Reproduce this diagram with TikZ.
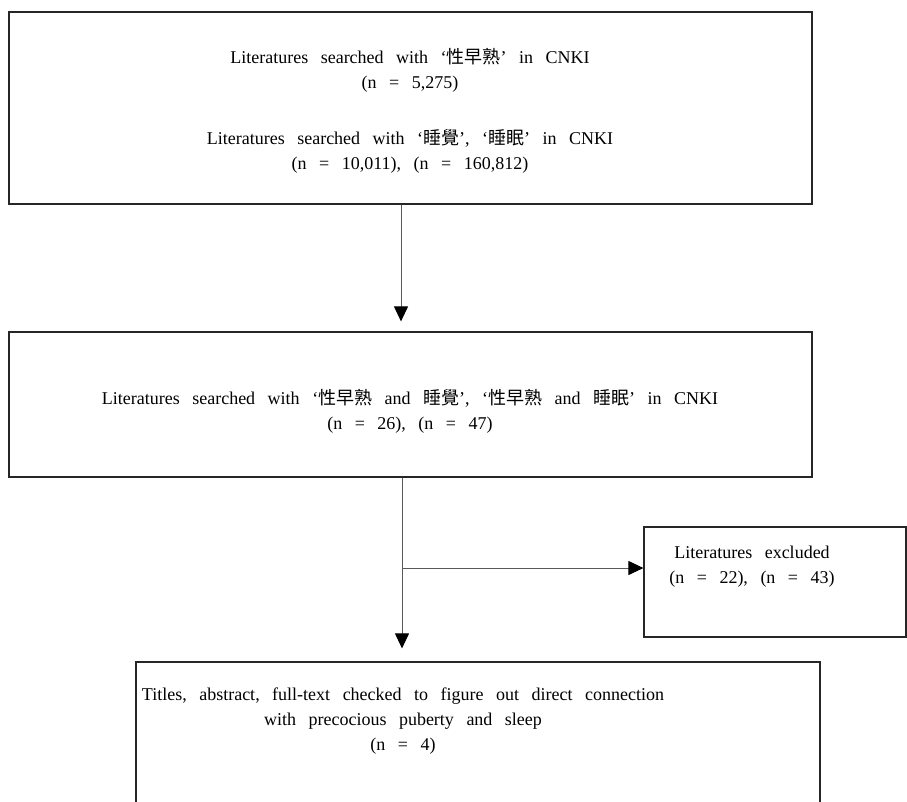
\documentclass[tikz,border=0pt]{standalone}
\usepackage{fontspec}
\setmainfont{Liberation Serif}
\newfontfamily\cjk{Noto Sans CJK TC}
\usetikzlibrary{arrows.meta,calc}
\newcommand\widesp{\spaceskip=12.5pt plus 1pt\relax}
\tikzset{
  boxframe/.style={draw=black!85, line width=1.2pt, inner sep=0pt},
  txt/.style={align=center, inner sep=0pt, text=black,
    font=\fontsize{18}{25}\selectfont, execute at begin node=\widesp},
  arr/.style={draw=black!65, line width=1pt, -{Triangle[length=15pt,width=14pt,color=black]}}
}
\begin{document}
\begin{tikzpicture}[x=1pt,y=-1pt]
\useasboundingbox[fill=white] (0,0) rectangle (907,801);
% boxes
\node[boxframe, minimum width=803pt, minimum height=192pt] (b1) at (410.5,108) {};
\node[boxframe, minimum width=803pt, minimum height=145pt] (b2) at (410.5,404.5) {};
\node[boxframe, minimum width=262pt, minimum height=110pt] (b3) at (775,582) {};
\node[boxframe, minimum width=684pt, minimum height=200pt] (b4) at (478,762) {};
% texts
\node[txt] (t1) at (410,111) {Literatures searched with ‘{\cjk 性早熟}’ in CNKI\\(n = 5,275)\\[31pt]Literatures searched with ‘{\cjk 睡覺}’, ‘{\cjk 睡眠}’ in CNKI\\(n = 10,011), (n = 160,812)};
\node[txt] (t2) at (410,411) {Literatures searched with ‘{\cjk 性早熟} and {\cjk 睡覺}’, ‘{\cjk 性早熟} and {\cjk 睡眠}’ in CNKI\\(n = 26), (n = 47)};
\node[txt] (t3) at (752,567) {Literatures excluded\\(n = 22), (n = 43)};
\node[txt] (t4) at (403,721) {Titles, abstract, full-text checked to figure out direct connection\\with precocious puberty and sleep\\(n = 4)};
% connectors
\coordinate (s1) at (401,0);
\coordinate (s2) at (402,0);
\coordinate (j) at (402,568);
\draw[arr] (b1.south -| s1) -- ([yshift=10pt]b2.north -| s1);
\draw[arr] (b2.south -| s2) -- ([yshift=13pt]b4.north -| s2);
\draw[arr] (j) -- (j -| b3.west);
\end{tikzpicture}
\end{document}
